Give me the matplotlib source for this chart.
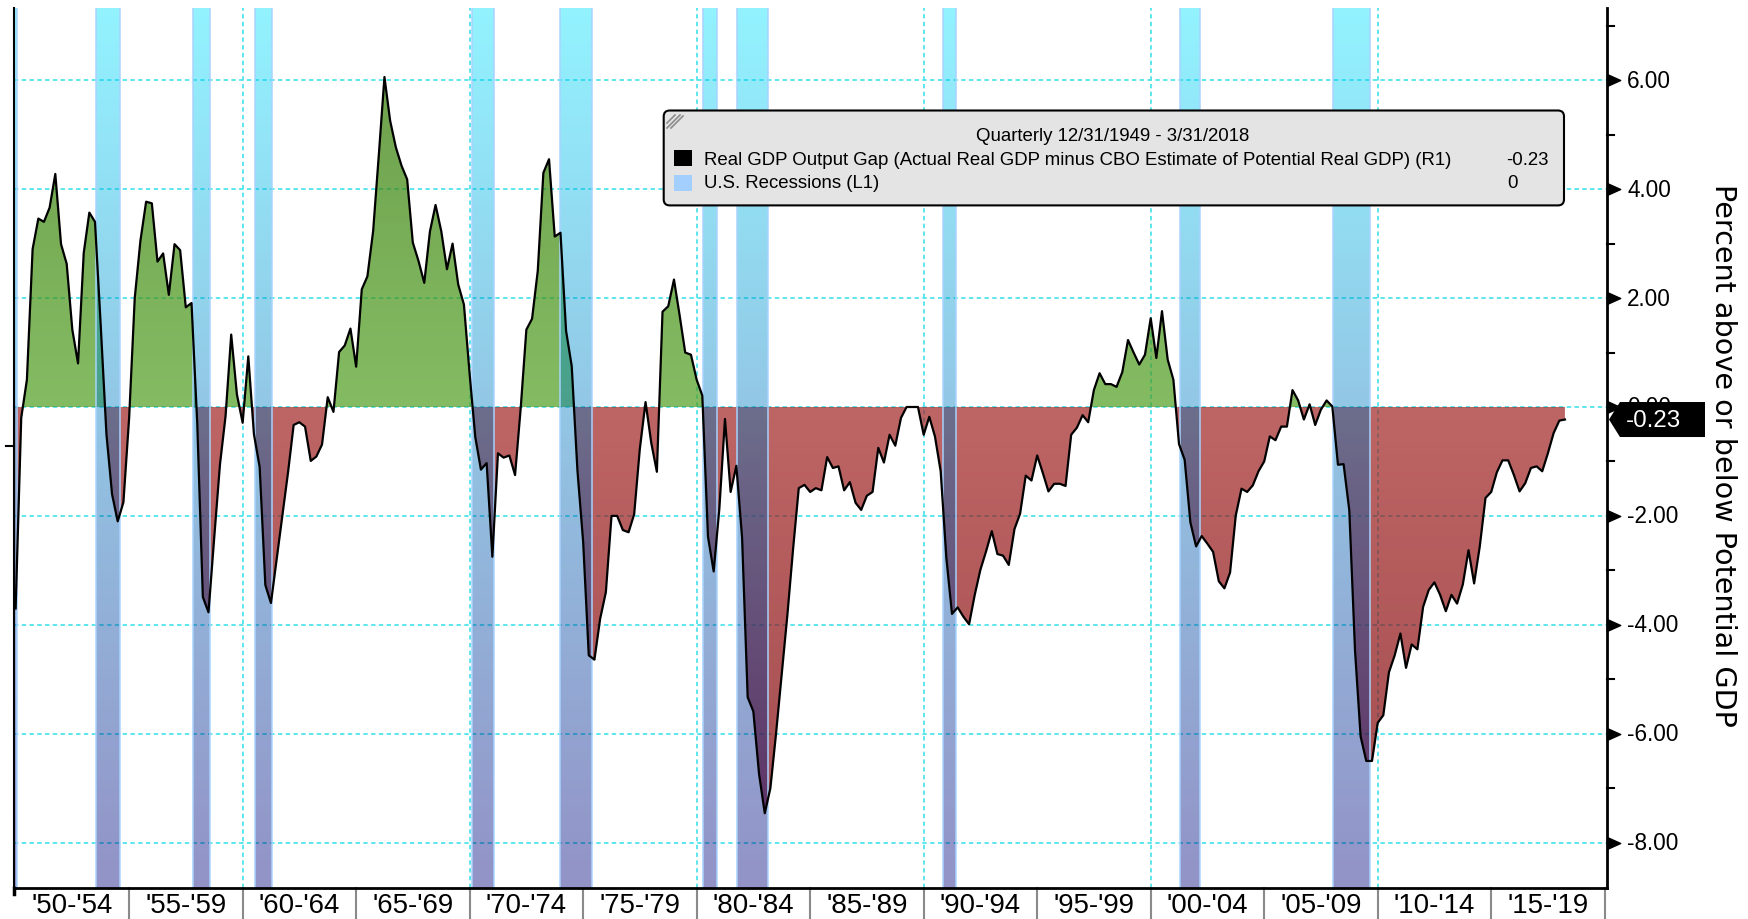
import numpy as np
import pandas as pd
import matplotlib
matplotlib.use("Agg")
import matplotlib.pyplot as plt
from matplotlib.path import Path
from matplotlib.patches import PathPatch, Polygon, FancyBboxPatch, Rectangle
from matplotlib.transforms import IdentityTransform, blended_transform_factory

# ---------------- data ----------------
start_date = "1949-12-31"
gap = [
    -3.70, -0.20, 0.50, 2.90, 3.46, 3.40, 3.66, 4.28, 2.99, 2.63,
    1.42, 0.80, 2.83, 3.57, 3.40, 1.50, -0.50, -1.60, -2.10, -1.75,
    -0.20, 2.00, 3.05, 3.77, 3.74, 2.67, 2.82, 2.06, 2.99, 2.88,
    1.83, 1.91, -0.30, -3.49, -3.77, -2.40, -1.06, -0.17, 1.33, 0.23,
    -0.29, 0.93, -0.50, -1.10, -3.27, -3.60, -2.80, -2.00, -1.20, -0.33,
    -0.28, -0.36, -0.99, -0.91, -0.69, 0.18, -0.09, 1.01, 1.13, 1.44,
    0.74, 2.16, 2.40, 3.23, 4.64, 6.06, 5.26, 4.77, 4.43, 4.18,
    3.02, 2.68, 2.28, 3.22, 3.71, 3.23, 2.53, 3.00, 2.25, 1.88,
    0.60, -0.55, -1.15, -1.03, -2.75, -0.85, -0.93, -0.89, -1.25, -0.02,
    1.42, 1.62, 2.50, 4.30, 4.55, 3.13, 3.20, 1.40, 0.75, -1.17,
    -2.48, -4.56, -4.64, -3.89, -3.40, -2.00, -2.00, -2.26, -2.30, -1.97,
    -0.77, 0.09, -0.66, -1.19, 1.75, 1.85, 2.34, 1.69, 1.00, 0.96,
    0.50, 0.21, -2.38, -3.02, -1.86, -0.22, -1.56, -1.08, -2.40, -5.33,
    -5.59, -6.74, -7.46, -7.00, -6.00, -4.90, -3.80, -2.60, -1.49, -1.43,
    -1.56, -1.49, -1.53, -0.92, -1.12, -1.09, -1.53, -1.38, -1.76, -1.89,
    -1.63, -1.56, -0.75, -1.02, -0.51, -0.71, -0.20, 0.00, 0.00, 0.00,
    -0.51, -0.18, -0.54, -1.18, -2.78, -3.80, -3.68, -3.85, -3.99, -3.45,
    -2.99, -2.65, -2.28, -2.70, -2.73, -2.90, -2.24, -1.96, -1.26, -1.35,
    -0.89, -1.21, -1.55, -1.41, -1.41, -1.45, -0.51, -0.38, -0.15, -0.28,
    0.31, 0.62, 0.42, 0.42, 0.37, 0.64, 1.23, 1.00, 0.78, 0.96,
    1.63, 0.90, 1.76, 0.87, 0.50, -0.68, -0.97, -2.12, -2.56, -2.37,
    -2.51, -2.66, -3.20, -3.33, -3.04, -1.99, -1.50, -1.56, -1.44, -1.18,
    -1.00, -0.54, -0.61, -0.36, -0.36, 0.31, 0.12, -0.23, 0.05, -0.33,
    -0.05, 0.12, 0.01, -1.06, -1.05, -1.90, -4.47, -6.05, -6.50, -6.50,
    -5.80, -5.66, -4.87, -4.56, -4.16, -4.79, -4.36, -4.45, -3.67, -3.36,
    -3.22, -3.45, -3.75, -3.45, -3.61, -3.26, -2.63, -3.24, -2.56, -1.67,
    -1.56, -1.20, -0.98, -0.98, -1.25, -1.55, -1.40, -1.12, -1.09, -1.18,
    -0.85, -0.48, -0.25, -0.23,
]
rec_start = [1949.90, 1953.54, 1957.80, 1960.54, 1970.09, 1973.98, 1980.29,
             1981.76, 1990.84, 2001.29, 2008.02]
rec_end = [1950.07, 1954.60, 1958.56, 1961.28, 1971.07, 1975.40, 1980.88,
           1983.16, 1991.41, 2002.17, 2009.66]
rec_last = 0
x_labels = ["'50-'54", "'55-'59", "'60-'64", "'65-'69", "'70-'74", "'75-'79",
            "'80-'84", "'85-'89", "'90-'94", "'95-'99", "'00-'04", "'05-'09",
            "'10-'14", "'15-'19"]
label_years = [1950, 1955, 1960, 1965, 1970, 1975, 1980, 1985, 1990, 1995,
               2000, 2005, 2010, 2015]
y_ticks = [6, 4, 2, 0, -2, -4, -6, -8]
y_minor = [7, 5, 3, 1, -1, -3, -5, -7]
left_tick = [-0.72]
decade_grid = [1960, 1970, 1980, 1990, 2000, 2010]
series_name = "Real GDP Output Gap (Actual Real GDP minus CBO Estimate of Potential Real GDP) (R1)"
rec_name = "U.S. Recessions (L1)"
y_title = "Percent above or below Potential GDP"

# ---------------- prepare ----------------
gap = np.array(gap)
dates = pd.date_range(start_date, periods=len(gap), freq="QE-DEC")
t = np.asarray(dates.year + dates.dayofyear / np.where(dates.is_leap_year, 366, 365), float)

W, H = 1749, 920
FONT = "Liberation Sans"
plt.rcParams["font.family"] = [FONT, "DejaVu Sans"]

fig = plt.figure(figsize=(W / 100, H / 100), dpi=100)
AX_L, AX_R, AX_T, AX_B = 14.5, 1607.0, 9.0, 889.0
ax = fig.add_axes([AX_L / W, (H - AX_B) / H, (AX_R - AX_L) / W, (AX_B - AX_T) / H])
XL = (1949.95, 2020.1)
YL = (-8.833, 7.327)

grid_kw = dict(color="#4fe4ea", lw=1.3, ls=(0, (2.4, 1.9)), zorder=1)
for v in y_ticks:
    ax.axhline(v, **grid_kw)
for d in decade_grid:
    ax.axvline(d, **grid_kw)

# gradient area fill clipped to the area between curve and zero
pos = ax.fill_between(t, gap, 0, where=gap >= 0, interpolate=True, facecolor="none", edgecolor="none")
neg = ax.fill_between(t, gap, 0, where=gap <= 0, interpolate=True, facecolor="none", edgecolor="none")
fill_path = Path.make_compound_path(*(list(pos.get_paths()) + list(neg.get_paths())))
clip_fill = PathPatch(fill_path, transform=ax.transData, facecolor="none", edgecolor="none")
ax.add_patch(clip_fill)

N = 900
yy = np.linspace(YL[1], YL[0], N)
g0, g6 = np.array([79, 159, 31]), np.array([48, 122, 0])
r0, r7 = np.array([162, 34, 34]), np.array([127, 2, 5])
fg = np.clip(yy / 6.0, 0, 1)[:, None]
fr = np.clip(-yy / 7.5, 0, 1)[:, None]
rgb = np.where((yy >= 0)[:, None], g0 + (g6 - g0) * fg, r0 + (r7 - r0) * fr) / 255.0
img = np.zeros((N, 2, 4))
img[..., :3] = rgb[:, None, :]
img[..., 3] = 0.70
im = ax.imshow(img, extent=[XL[0], XL[1], YL[0], YL[1]], aspect="auto", origin="upper",
               zorder=2, interpolation="bilinear")
im.set_clip_path(clip_fill)

# recession bars with vertical gradient
rect_paths = []
for s, e in zip(rec_start, rec_end):
    rect_paths.append(Path([(s, YL[0]), (e, YL[0]), (e, YL[1]), (s, YL[1]), (s, YL[0])],
                           [Path.MOVETO, Path.LINETO, Path.LINETO, Path.LINETO, Path.CLOSEPOLY]))
clip_bar = PathPatch(Path.make_compound_path(*rect_paths), transform=ax.transData,
                     facecolor="none", edgecolor="none")
ax.add_patch(clip_bar)
ftop = np.linspace(0, 1, N)[:, None]
ctop, cbot = np.array([0, 227, 255]), np.array([0, 0, 122])
bimg = np.zeros((N, 2, 4))
bimg[..., :3] = ((ctop + (cbot - ctop) * ftop) / 255.0)[:, None, :]
bimg[..., 3] = 0.43
bim = ax.imshow(bimg, extent=[XL[0], XL[1], YL[0], YL[1]], aspect="auto", origin="upper",
                zorder=3, interpolation="bilinear")
bim.set_clip_path(clip_bar)
for s, e in zip(rec_start, rec_end):
    ax.axvline(s, color="#a8d3ff", lw=1.2, alpha=0.9, zorder=3.2)
    ax.axvline(e, color="#a8d3ff", lw=1.2, alpha=0.9, zorder=3.2)

ax.plot(t, gap, color="black", lw=1.6, zorder=5, solid_joinstyle="round")

ax.set_xlim(XL)
ax.set_ylim(YL)
ax.set_xticks([])
ax.set_yticks([])
ax.spines["top"].set_visible(False)
ax.spines["left"].set_linewidth(1.5)
ax.spines["right"].set_linewidth(2.0)
ax.spines["bottom"].set_linewidth(2.0)
for sp in ax.spines.values():
    sp.set_zorder(6)

renderer = fig.canvas.get_renderer()


def fit(txt, target, dim="width"):
    bb = txt.get_window_extent(renderer)
    cur = bb.width if dim == "width" else bb.height
    txt.set_fontsize(txt.get_fontsize() * target / cur)


# bottom axis: separators and period labels
tb = blended_transform_factory(ax.transData, ax.transAxes)
axh = AX_B - AX_T
axw = AX_R - AX_L
for b in label_years[1:] + [label_years[-1] + 5]:
    ax.plot([b, b], [0, -31 / axh], transform=tb, color="#8a8a8a", lw=1.5, clip_on=False, zorder=6)
ax.plot([XL[0], XL[0]], [0, -6 / axh], transform=tb, color="black", lw=2.5, clip_on=False)
xl_size = None
for lab, y0 in zip(x_labels, label_years):
    tx = ax.text(y0 + 2.5, -17 / axh, lab, transform=tb, ha="center", va="center", fontsize=14)
    if xl_size is None:
        fit(tx, 82)
        xl_size = tx.get_fontsize()
    tx.set_fontsize(xl_size)

# left axis small tick
tr = blended_transform_factory(ax.transAxes, ax.transData)
for v in left_tick:
    ax.plot([0, -8 / axw], [v, v], transform=tr, color="black", lw=1.5, clip_on=False)

# right axis
tri = Path([(0, -0.45), (1, 0), (0, 0.45), (0, -0.45)],
           [Path.MOVETO, Path.LINETO, Path.LINETO, Path.CLOSEPOLY])
ax.plot([1.0] * len(y_ticks), y_ticks, ls="none", marker=tri, ms=19, color="black",
        transform=tr, clip_on=False, zorder=7)
for v in y_minor:
    ax.plot([1.0, 1.0 + 7 / axw], [v, v], transform=tr, color="black", lw=1.5, clip_on=False)
yt_size = None
for v in y_ticks:
    tx = ax.text(1.0 + (1627 - AX_R) / axw, v, f"{v:.2f}", transform=tr, ha="left", va="center",
                 fontsize=14)
    if yt_size is None:
        fit(tx, 44)
        yt_size = tx.get_fontsize()
    tx.set_fontsize(yt_size)

yl = fig.text(1723 / W, 1 - 455 / H, y_title, rotation=270, ha="center", va="center",
              fontsize=20, family=["DejaVu Sans"])
fit(yl, 541, dim="height")

# last value tag
ID = IdentityTransform()
yt_disp = ax.transData.transform((2000, gap[-1]))[1]
hh = 17.5
tag = Polygon([(1609, yt_disp), (1620, yt_disp + hh), (1705, yt_disp + hh), (1705, yt_disp - hh),
               (1620, yt_disp - hh)], closed=True, facecolor="black", edgecolor="none",
              transform=ID, zorder=10)
fig.add_artist(tag)
tt = fig.text(1626, yt_disp, f"{gap[-1]:.2f}", transform=ID, color="white", ha="left",
              va="center", fontsize=16, zorder=11)
fit(tt, 55)


# legend box
def D(y):
    return H - y


box = FancyBboxPatch((663.7, D(206.4)), 900.3, 94.9, boxstyle="round,pad=0,rounding_size=6",
                     facecolor="#e4e4e4", edgecolor="black", lw=1.5, transform=ID, zorder=20)
fig.add_artist(box)
for (x0, y0, x1, y1) in [(667, 124, 675, 116), (667, 129, 680, 116), (671, 129, 683, 117)]:
    fig.add_artist(plt.Line2D([x0, x1], [D(y0), D(y1)], color="#8c8c8c", lw=1.2,
                              transform=ID, zorder=21))
d0, d1 = dates[0], dates[-1]
title = f"Quarterly {d0.month}/{d0.day}/{d0.year} - {d1.month}/{d1.day}/{d1.year}"
r1 = fig.text(704, D(160.6), series_name, transform=ID, ha="left", va="center", fontsize=12, zorder=22)
fit(r1, 754)
ls = r1.get_fontsize()
fig.text(1113, D(137), title, transform=ID, ha="center", va="center", fontsize=ls, zorder=22)
fig.text(704, D(184), rec_name, transform=ID, ha="left", va="center", fontsize=ls, zorder=22)
fig.text(1506, D(160.6), f"{gap[-1]:.2f}", transform=ID, ha="left", va="center", fontsize=ls, zorder=22)
fig.text(1507, D(184), f"{rec_last}", transform=ID, ha="left", va="center", fontsize=ls, zorder=22)
fig.add_artist(Rectangle((674, D(167)), 18, 16.5, facecolor="black", edgecolor="none",
                         transform=ID, zorder=22))
fig.add_artist(Rectangle((674, D(192)), 18, 16.5, facecolor="#a3cfff", edgecolor="none",
                         transform=ID, zorder=22))

fig.savefig("out.png", dpi=100)
